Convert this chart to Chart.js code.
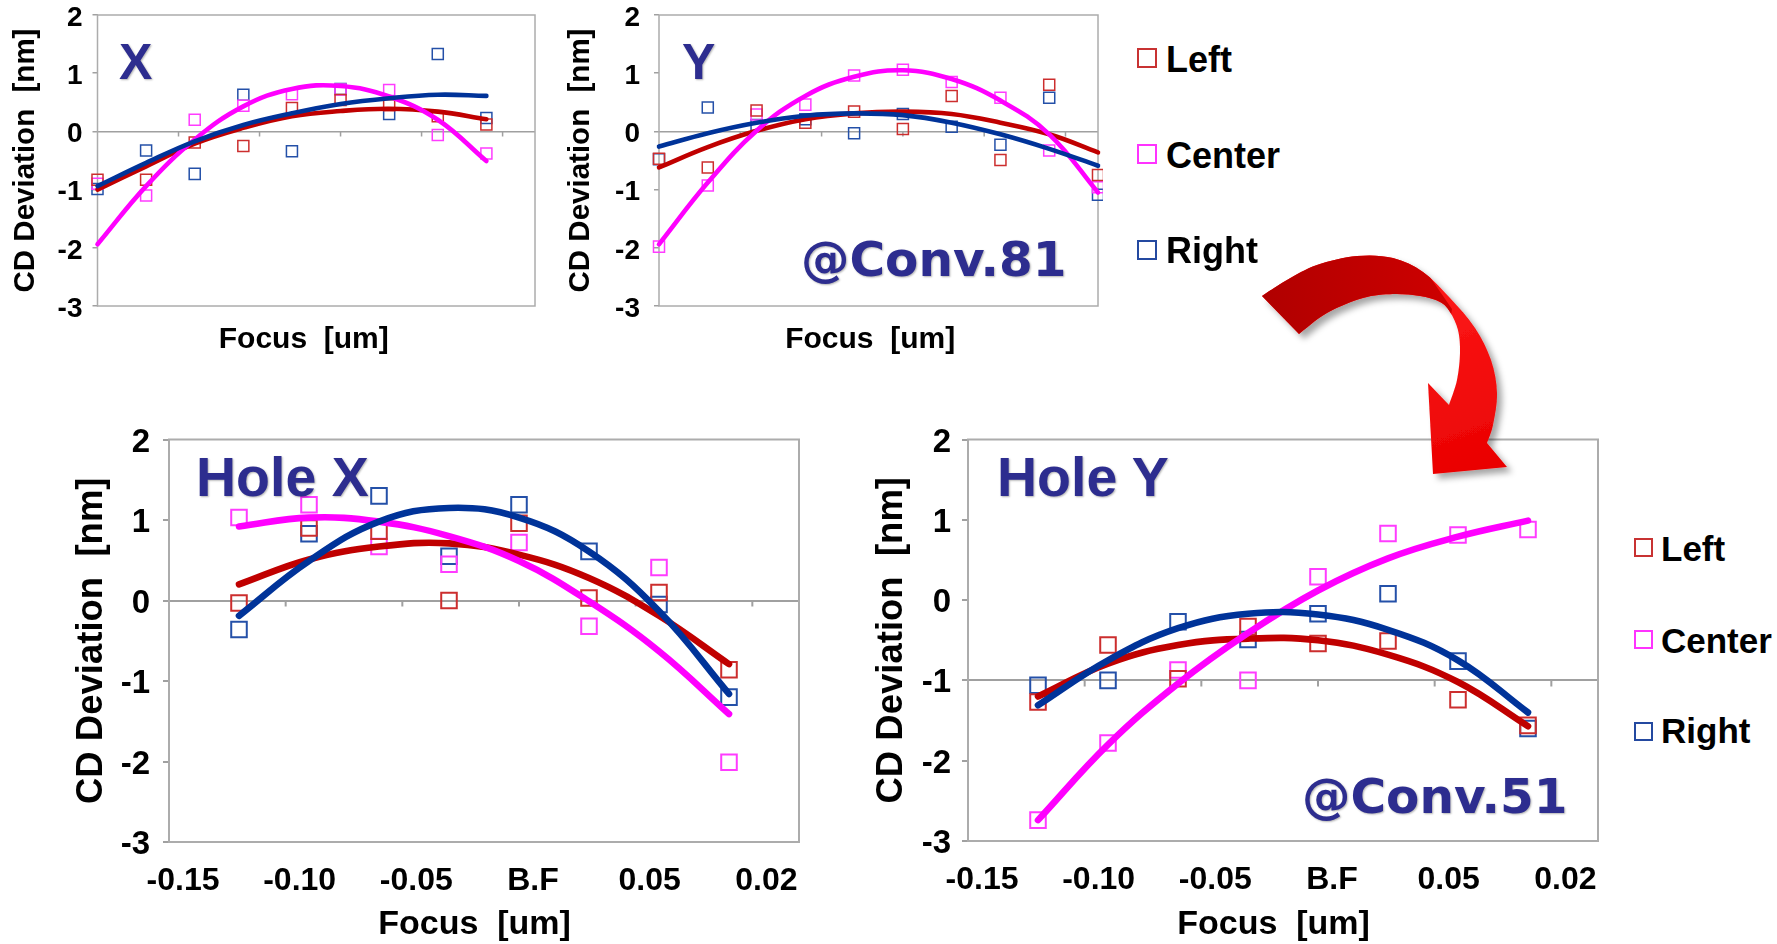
<!DOCTYPE html>
<html lang="en">
<head>
<meta charset="utf-8">
<title>CD Deviation vs Focus</title>
<script src="https://cdn.jsdelivr.net/npm/chart.js@4.4.1/dist/chart.umd.min.js"></script>
<style>
  html, body { margin:0; padding:0; background:#ffffff; }
  #stage { position:relative; width:1777px; height:944px; overflow:hidden; background:#ffffff; }
  .cbox { position:absolute; }
  .cbox canvas { display:block; }
  .txt { position:absolute; white-space:pre; line-height:1; font-weight:bold; margin:0; }
  .navy { color:#2d2d8f; text-shadow:1px 1px 2px rgba(0,0,0,0.3); }
  .arial { font-family:'Liberation Sans', Arial, sans-serif; }
  .dejavu { font-family:'DejaVu Sans', Verdana, sans-serif; }
  .blk { color:#000; }
  .sq { position:absolute; box-sizing:border-box; border:2px solid; background:transparent; }
  #arrow { position:absolute; left:0; top:0; pointer-events:none; }
</style>
</head>
<body>
<div id="stage">
  <div class="cbox" style="left:0px;top:0px;"><canvas id="chartX" width="540" height="366"></canvas></div>
  <div class="cbox" style="left:545px;top:0px;"><canvas id="chartY" width="558" height="366"></canvas></div>
  <div class="cbox" style="left:40px;top:420px;"><canvas id="chartHoleX" width="764" height="524"></canvas></div>
  <div class="cbox" style="left:840px;top:420px;"><canvas id="chartHoleY" width="763" height="524"></canvas></div>

  <div class="txt navy arial" style="left:119px;top:36.5px;font-size:50px;">X</div>
  <div class="txt navy arial" style="left:682px;top:36.5px;font-size:50px;">Y</div>
  <div class="txt navy dejavu" style="left:801px;top:235px;font-size:48.5px;">@Conv.81</div>
  <div class="txt navy arial" style="left:196px;top:450px;font-size:55.5px;">Hole X</div>
  <div class="txt navy arial" style="left:997px;top:450px;font-size:55.5px;">Hole Y</div>
  <div class="txt navy dejavu" style="left:1302px;top:772px;font-size:48.5px;">@Conv.51</div>

  <div class="sq" style="left:1137px;top:48px;width:20px;height:20px;border-color:#c83232;"></div>
  <div class="txt blk arial" style="left:1166px;top:41.5px;font-size:36px;">Left</div>
  <div class="sq" style="left:1137px;top:144px;width:20px;height:20px;border-color:#ff33ff;"></div>
  <div class="txt blk arial" style="left:1166px;top:137.5px;font-size:36px;">Center</div>
  <div class="sq" style="left:1137px;top:240px;width:20px;height:20px;border-color:#2449a0;"></div>
  <div class="txt blk arial" style="left:1166px;top:232.5px;font-size:36px;">Right</div>

  <div class="sq" style="left:1634px;top:538px;width:19px;height:19px;border-color:#c83232;"></div>
  <div class="txt blk arial" style="left:1661px;top:531.4px;font-size:35px;">Left</div>
  <div class="sq" style="left:1634px;top:630px;width:19px;height:19px;border-color:#ff33ff;"></div>
  <div class="txt blk arial" style="left:1661px;top:623.4px;font-size:35px;">Center</div>
  <div class="sq" style="left:1634px;top:722px;width:19px;height:19px;border-color:#2449a0;"></div>
  <div class="txt blk arial" style="left:1661px;top:713.4px;font-size:35px;">Right</div>

  <svg id="arrow" width="1777" height="944" viewBox="0 0 1777 944">
    <defs>
      <filter id="shadow" x="-20%" y="-20%" width="140%" height="140%">
        <feDropShadow dx="5" dy="5" stdDeviation="3" flood-color="#000" flood-opacity="0.35"/>
      </filter>
      <linearGradient id="gBright" gradientUnits="userSpaceOnUse" x1="1430" y1="270" x2="1500" y2="480">
        <stop offset="0" stop-color="#ff1a1a"/><stop offset="1" stop-color="#e80000"/>
      </linearGradient>
      <linearGradient id="gDark" gradientUnits="userSpaceOnUse" x1="1262" y1="300" x2="1440" y2="280">
        <stop offset="0" stop-color="#b00000"/><stop offset="1" stop-color="#cc0000"/>
      </linearGradient>
      <clipPath id="darkClip"><polygon points="1240,225 1425,225 1430,277 1452,309 1445,360 1240,360"/></clipPath>
    </defs>
    <g filter="url(#shadow)"><path id="arrowBright" fill="url(#gBright)"/></g>
    <path id="arrowDark" fill="url(#gDark)" clip-path="url(#darkClip)"/>
  </svg>
</div>

<script>
// ================= DATA =================
const seriesNames = ['Left', 'Center', 'Right'];

// focus positions (common linear focus axis 0..27, ticks every 5)
const focusPosX    = [0, 3, 6, 9, 12, 15, 18, 21, 24];
const focusPosY    = [0, 3, 6, 9, 12, 15, 18, 21, 24, 27];
const focusPosHole = [3, 6, 9, 12, 15, 18, 21, 24];
const focusTickValues = [0, 5, 10, 15, 20, 25];
const focusTickLabels = ['-0.15', '-0.10', '-0.05', 'B.F', '0.05', '0.02'];
const cdTickValues = [-3, -2, -1, 0, 1, 2];

// Chart "X" (@Conv.81)
const xLeft   = [-0.83, -0.83, -0.19, -0.25, 0.40, 0.54, 0.45, 0.26, 0.12];
const xCenter = [-0.90, -1.10, 0.20, 0.44, 0.64, 0.72, 0.71, -0.06, -0.38];
const xRight  = [-0.99, -0.33, -0.73, 0.63, -0.34, 0.73, 0.30, 1.33, 0.23];
const xFitLeft   = [-1.00, -0.60, -0.21, 0.06, 0.26, 0.35, 0.39, 0.34, 0.21];
const xFitCenter = [-1.94, -0.94, -0.14, 0.43, 0.73, 0.78, 0.60, 0.20, -0.51];
const xFitRight  = [-0.94, -0.54, -0.17, 0.11, 0.31, 0.47, 0.57, 0.63, 0.61];

// Chart "Y" (@Conv.81)
const yLeft   = [-0.47, -0.62, 0.36, 0.15, 0.34, 0.04, 0.61, -0.49, 0.80, -0.75];
const yCenter = [-1.98, -0.93, 0.29, 0.46, 0.96, 1.06, 0.85, 0.58, -0.33, -0.96];
const yRight  = [-0.48, 0.41, 0.11, 0.21, -0.03, 0.30, 0.08, -0.23, 0.58, -1.09];
const yFitLeft   = [-0.62, -0.27, 0.01, 0.21, 0.31, 0.34, 0.30, 0.15, -0.05, -0.36];
const yFitCenter = [-1.94, -0.88, 0.01, 0.61, 0.94, 1.05, 0.90, 0.53, -0.05, -1.05];
const yFitRight  = [-0.26, -0.03, 0.15, 0.27, 0.31, 0.28, 0.15, -0.05, -0.30, -0.59];

// Chart "Hole X" (@Conv.51)
const hxLeft   = [-0.03, 0.90, 0.86, 0.00, 0.96, 0.03, 0.10, -0.86];
const hxCenter = [1.03, 1.19, 0.67, 0.45, 0.72, -0.32, 0.41, -2.01];
const hxRight  = [-0.36, 0.83, 1.30, 0.55, 1.19, 0.61, -0.05, -1.20];
const hxFitLeft   = [0.20, 0.51, 0.67, 0.71, 0.57, 0.28, -0.19, -0.79];
const hxFitCenter = [0.92, 1.03, 0.98, 0.80, 0.49, -0.01, -0.63, -1.41];
const hxFitRight  = [-0.19, 0.49, 0.98, 1.15, 1.03, 0.61, -0.13, -1.16];

// Chart "Hole Y" (@Conv.51)
const hyLeft   = [-1.27, -0.56, -0.98, -0.33, -0.54, -0.51, -1.24, -1.56];
const hyCenter = [-2.74, -1.78, -0.87, -1.00, 0.29, 0.83, 0.81, 0.88];
const hyRight  = [-1.06, -1.00, -0.27, -0.49, -0.17, 0.08, -0.76, -1.60];
const hyFitLeft   = [-1.20, -0.79, -0.56, -0.48, -0.50, -0.68, -1.02, -1.57];
const hyFitCenter = [-2.74, -1.80, -1.04, -0.41, 0.12, 0.52, 0.79, 0.99];
const hyFitRight  = [-1.31, -0.75, -0.35, -0.17, -0.18, -0.37, -0.75, -1.40];

// ================= STYLE =================
const FONT = "'Liberation Sans', Arial, sans-serif";
const LINE_COLORS = ['#c00000', '#ff00ff', '#003399'];
const MARK_COLORS = ['#cc2e2e', '#ff3cff', '#2450a8'];
const LINE_ORDER = [3, 2, 1];
const FRAME_COLOR = '#acacac';
const CROSS_COLOR = '#a0a0a0';

const framePlugin = {
  id: 'frame',
  beforeDatasetsDraw(chart, args, o) {
    const { ctx, chartArea: a, scales: { x, y } } = chart;
    ctx.save();
    ctx.strokeStyle = FRAME_COLOR;
    ctx.lineWidth = o.frameW;
    ctx.strokeRect(a.left, a.top, a.right - a.left, a.bottom - a.top);
    const yc = y.getPixelForValue(o.cross);
    ctx.strokeStyle = CROSS_COLOR;
    ctx.lineWidth = o.crossW;
    ctx.beginPath();
    x.ticks.forEach(t => {
      if (t.value > x.min && t.value < x.max) {
        const px = x.getPixelForValue(t.value);
        ctx.moveTo(px, yc);
        ctx.lineTo(px, yc + o.tickLen);
      }
    });
    ctx.stroke();
    ctx.restore();
  }
};

function makeChart(id, xs, marks, fits, g) {
  const datasets = [];
  for (let i = 0; i < 3; i++) {
    datasets.push({
      label: seriesNames[i],
      data: xs.map((x, j) => ({ x: x, y: marks[i][j] })),
      showLine: false, pointStyle: 'rect',
      pointRadius: g.markR, pointHoverRadius: g.markR, pointBorderWidth: g.markW,
      pointBorderColor: MARK_COLORS[i], pointBackgroundColor: 'rgba(0,0,0,0)',
      borderColor: MARK_COLORS[i], backgroundColor: 'rgba(0,0,0,0)',
      clip: false, order: 10
    });
  }
  for (let i = 0; i < 3; i++) {
    datasets.push({
      label: seriesNames[i] + ' trend',
      data: xs.map((x, j) => ({ x: x, y: fits[i][j] })),
      showLine: true, pointRadius: 0, pointHoverRadius: 0,
      borderColor: LINE_COLORS[i], borderWidth: g.lineW, tension: 0.4,
      borderCapStyle: 'round', borderJoinStyle: 'round', fill: false,
      clip: false, order: LINE_ORDER[i]
    });
  }
  return new Chart(document.getElementById(id), {
    type: 'scatter',
    data: { datasets },
    plugins: [framePlugin],
    options: {
      responsive: false, animation: false, devicePixelRatio: 1,
      layout: { autoPadding: false, padding: { top: g.padTop, right: g.padRight, left: 0, bottom: 0 } },
      plugins: {
        legend: { display: false }, tooltip: { enabled: false },
        frame: { cross: g.cross, crossW: g.crossW, tickLen: g.tickLen, frameW: g.frameW }
      },
      scales: {
        x: {
          type: 'linear', min: 0, max: 27,
          afterBuildTicks: s => { s.ticks = focusTickValues.map(v => ({ value: v })); },
          grid: { display: false, drawTicks: false },
          border: { display: false },
          ticks: {
            display: g.xLabels, autoSkip: false, maxRotation: 0, includeBounds: false,
            color: '#000', padding: g.xTickPad || 0, labelOffset: g.xLabelOffset || 0,
            font: { family: FONT, size: g.xTickFont || 12, weight: 'bold', lineHeight: 1.2 },
            callback: v => { const k = focusTickValues.indexOf(v); return k >= 0 ? focusTickLabels[k] : ''; }
          },
          title: {
            display: true, text: 'Focus  [um]' + g.xTitleTrail, color: '#000',
            font: { family: FONT, size: g.xTitleSize, weight: 'bold', lineHeight: g.xTitleLH },
            padding: { top: 0, bottom: g.xTitlePad }
          },
          afterFit: s => { s.height = g.xAxH; s.paddingLeft = 0; s.paddingRight = 0; }
        },
        y: {
          type: 'linear', min: -3, max: 2,
          afterBuildTicks: s => { s.ticks = cdTickValues.map(v => ({ value: v })); },
          grid: {
            display: true, drawOnChartArea: true, drawTicks: true, tickLength: g.tickLen,
            lineWidth: g.crossW, tickColor: CROSS_COLOR,
            color: c => (c.tick && c.tick.value === g.cross) ? CROSS_COLOR : 'rgba(0,0,0,0)'
          },
          border: { display: false },
          ticks: {
            color: '#000', padding: g.yTickPad, labelOffset: 3,
            font: { family: FONT, size: g.yTickFont, weight: 'bold', lineHeight: 1 }
          },
          title: {
            display: true, text: 'CD Deviation  [nm]', color: '#000',
            font: { family: FONT, size: g.yTitleSize, weight: 'bold', lineHeight: 1.2 },
            padding: { top: g.yTitlePad, bottom: 0 }
          },
          afterFit: s => { s.width = g.yAxW; s.paddingTop = 0; s.paddingBottom = 0; }
        }
      }
    }
  });
}

const topGeom = {
  xAxH: 60, padTop: 15, padRight: 5, yTickFont: 28, tickLen: 5,
  yTitleSize: 29.5, xTitleSize: 30, xTitleLH: 1.2, xTitlePad: 8, xLabels: false,
  markR: 7.8, markW: 1.5, lineW: 4.6, cross: 0, crossW: 1.5, frameW: 1.5
};
const botGeom = {
  padTop: 19.5, padRight: 5, yTickFont: 33, tickLen: 6,
  yTitleSize: 36.5, xTitleSize: 34, xTitleLH: 1.1, xTitlePad: 0.3, xLabels: true,
  xTickFont: 32, xTickPad: 20, xLabelOffset: 14, xTitleTrail: '  ',
  markR: 11, markW: 2, lineW: 6.6, crossW: 2, frameW: 2
};

makeChart('chartX', focusPosX, [xLeft, xCenter, xRight], [xFitLeft, xFitCenter, xFitRight],
  Object.assign({}, topGeom, { yAxW: 97.5, yTickPad: 10, yTitlePad: 8.3, xTitleTrail: '   ' }));
makeChart('chartY', focusPosY, [yLeft, yCenter, yRight], [yFitLeft, yFitCenter, yFitRight],
  Object.assign({}, topGeom, { yAxW: 114, yTickPad: 14, yTitlePad: 18.3, xTitleTrail: '  ' }));
makeChart('chartHoleX', focusPosHole, [hxLeft, hxCenter, hxRight], [hxFitLeft, hxFitCenter, hxFitRight],
  Object.assign({}, botGeom, { yAxW: 129, xAxH: 102, yTickPad: 13, yTitlePad: 29.6, cross: 0 }));
makeChart('chartHoleY', focusPosHole, [hyLeft, hyCenter, hyRight], [hyFitLeft, hyFitCenter, hyFitRight],
  Object.assign({}, botGeom, { yAxW: 128, xAxH: 103, yTickPad: 11, yTitlePad: 30.1, cross: -1 }));

// ================= decorative curved arrow =================
function smoothPath(pts) {
  let d = '';
  for (let i = 0; i < pts.length - 1; i++) {
    const p0 = pts[i - 1] || pts[i], p1 = pts[i], p2 = pts[i + 1], p3 = pts[i + 2] || p2;
    const c1 = [p1[0] + (p2[0] - p0[0]) / 6, p1[1] + (p2[1] - p0[1]) / 6];
    const c2 = [p2[0] - (p3[0] - p1[0]) / 6, p2[1] - (p3[1] - p1[1]) / 6];
    d += ' C' + c1[0].toFixed(1) + ',' + c1[1].toFixed(1) + ' ' + c2[0].toFixed(1) + ',' + c2[1].toFixed(1) + ' ' + p2[0] + ',' + p2[1];
  }
  return d;
}
const arrowOuter = [[1262,296],[1287,280],[1317,265],[1357,256],[1393,258],[1423,272],[1450,298],[1475,328],[1491,360],[1497,393],[1493,425],[1487,443]];
const arrowHead  = [[1507,467],[1433,474],[1428,383]];
const arrowInner = [[1449,405],[1457,380],[1460,353],[1458,330],[1450,312],[1440,302],[1420,296],[1393,294],[1363,298],[1327,313],[1299,334]];
let arrowD = 'M' + arrowOuter[0][0] + ',' + arrowOuter[0][1] + smoothPath(arrowOuter);
arrowHead.forEach(p => { arrowD += ' L' + p[0] + ',' + p[1]; });
arrowD += ' L' + arrowInner[0][0] + ',' + arrowInner[0][1] + smoothPath(arrowInner) + ' Z';
document.getElementById('arrowBright').setAttribute('d', arrowD);
document.getElementById('arrowDark').setAttribute('d', arrowD);
</script>
</body>
</html>
